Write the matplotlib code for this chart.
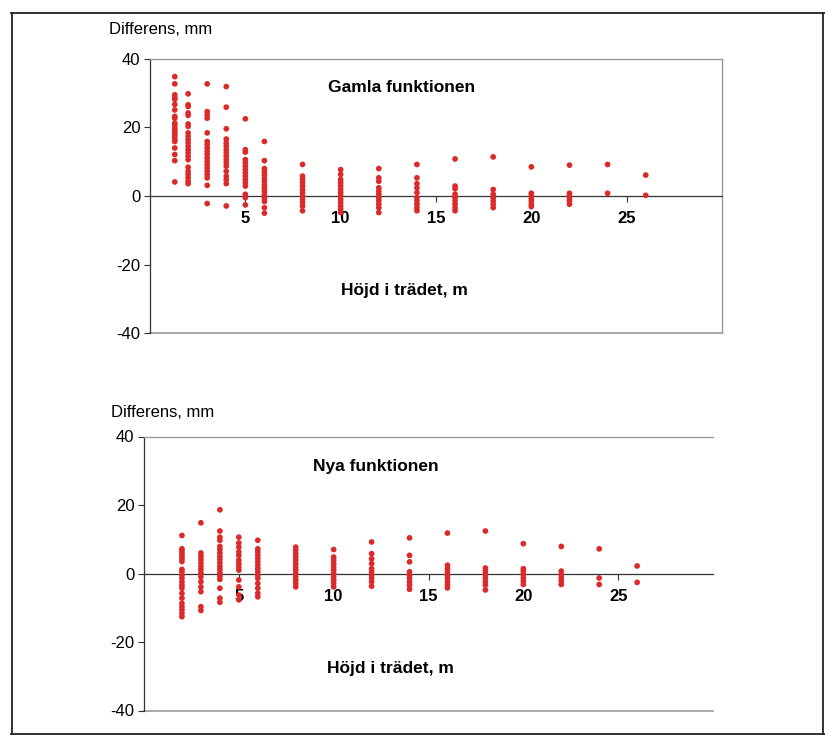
import matplotlib
matplotlib.use("Agg")
import matplotlib.pyplot as plt
from matplotlib.lines import Line2D

plt.rcParams['font.family'] = ['Liberation Sans', 'DejaVu Sans']

# ---------------- data ----------------
old_heights = [1.3, 2, 3, 4, 5, 6, 8, 10, 12, 14, 16, 18, 20, 22, 24, 26]
old_diffs = [
    [34.8, 32.7, 29.5, 28.7, 28.2, 26.7, 25.1, 23.2, 22.7, 21.3, 20.6, 19.8, 19.0,
     18.4, 17.9, 17.1, 16.4, 15.9, 14.0, 12.1, 10.3, 4.1],
    [29.8, 26.6, 26.1, 24.2, 23.5, 21.0, 20.3, 18.4, 17.4, 16.4, 15.5, 14.5, 13.5,
     12.6, 11.6, 10.6, 8.4, 7.2, 6.3, 5.3, 4.3, 3.6],
    [32.7, 24.6, 23.7, 22.7, 18.4, 15.9, 15.0, 14.0, 13.0, 12.1, 11.1, 10.1, 9.2,
     8.2, 7.2, 6.3, 5.3, 3.1, -2.2],
    [31.9, 25.9, 19.6, 16.6, 15.5, 14.5, 13.5, 12.6, 11.6, 10.6, 9.7, 8.7, 7.2,
     5.8, 4.8, 3.6, -2.9],
    [22.5, 13.5, 12.8, 10.6, 9.7, 8.7, 7.7, 6.8, 5.8, 4.8, 3.9, 2.9, 0.5, -0.5, -2.6],
    [15.9, 10.3, 8.0, 7.1, 6.1, 5.1, 4.2, 3.2, 2.2, 1.3, 0.3, -0.7, -1.6, -3.4, -5.0],
    [9.2, 5.8, 4.8, 3.9, 2.9, 1.9, 1.0, 0.0, -1.0, -1.9, -2.9, -4.3],
    [7.7, 6.3, 4.8, 3.9, 2.9, 1.9, 1.0, 0.0, -1.0, -1.9, -2.9, -3.9, -4.8],
    [8.0, 5.3, 4.3, 2.4, 1.4, 0.5, -0.5, -1.4, -2.4, -3.4, -4.8],
    [9.2, 5.3, 3.6, 2.4, 1.0, -0.5, -1.4, -2.4, -3.4, -4.3],
    [10.8, 2.9, 2.1, 0.5, -0.5, -1.4, -2.4, -3.4, -4.3],
    [11.4, 1.9, 0.5, -0.5, -1.4, -2.4, -3.4],
    [8.5, 0.8, 0.0, -0.8, -1.5, -2.4, -3.1],
    [9.0, 0.8, 0.0, -0.8, -1.5, -2.4],
    [9.2, 0.8],
    [6.1, 0.2],
]

new_heights = [2, 3, 4, 5, 6, 8, 10, 12, 14, 16, 18, 20, 22, 24, 26]
new_diffs = [
    [11.1, 7.2, 6.6, 5.8, 5.0, 4.3, 3.5, 1.2, 0.5, -0.5, -1.4, -2.4, -3.4, -4.3,
     -5.8, -7.2, -8.7, -9.7, -10.6, -11.6, -12.6],
    [14.8, 6.0, 5.0, 4.1, 3.1, 2.1, 1.2, 0.2, -1.0, -2.4, -3.9, -5.3, -9.7, -10.8],
    [18.6, 12.4, 10.6, 9.7, 7.9, 7.0, 6.0, 5.0, 4.1, 3.1, 2.1, 1.2, 0.2, -0.8,
     -1.7, -4.3, -7.2, -8.4],
    [10.6, 8.9, 7.7, 6.3, 5.3, 3.9, 2.9, 1.9, 1.0, -1.9, -3.9, -6.3, -7.7],
    [9.7, 7.2, 6.3, 5.3, 4.3, 3.4, 2.4, 1.4, 0.5, -0.5, -1.4, -2.9, -4.3, -5.8, -6.8],
    [7.7, 6.8, 5.8, 4.8, 3.9, 2.9, 1.9, 1.0, 0.0, -1.0, -1.9, -2.9, -3.9],
    [7.0, 4.8, 3.9, 2.9, 1.9, 1.0, 0.0, -1.0, -1.9, -2.9, -3.9],
    [9.2, 5.8, 4.3, 2.9, 1.4, 0.5, -0.5, -1.4, -2.4, -3.7],
    [10.4, 5.3, 3.4, 0.5, -0.5, -1.4, -2.4, -3.4, -4.6],
    [11.8, 2.4, 1.4, 0.5, -0.5, -1.4, -2.4, -3.4, -4.2],
    [12.4, 1.6, 0.7, -0.3, -1.3, -2.4, -3.4, -4.8],
    [8.7, 1.4, 0.7, -0.3, -1.3, -2.2, -3.2],
    [7.9, 0.7, -0.3, -1.3, -2.2, -3.2],
    [7.2, -1.3, -3.2],
    [2.2, -2.6],
]

x_ticks = [5, 10, 15, 20, 25]
y_ticks = [-40, -20, 0, 20, 40]
y_label = "Differens, mm"
x_label = "Höjd i trädet, m"
titles = ["Gamla funktionen", "Nya funktionen"]

# ---------------- figure ----------------
W, H = 825, 736
fig = plt.figure(figsize=(W / 100, H / 100), dpi=100)
fig.patch.set_facecolor("white")

def fx(px):
    return px / W

def fy(py):
    return 1 - py / H

DOT = "#dc2a2a"
GRAY = "#9a9a9a"

def make_panel(left, right, top, bottom, heights, diffs, right_frame):
    ax = fig.add_axes([fx(left), fy(bottom), fx(right) - fx(left), fy(top) - fy(bottom)])
    for h, vals in zip(heights, diffs):
        ax.scatter([h] * len(vals), vals, s=17, color=DOT, edgecolors="none",
                   zorder=3, clip_on=False)
    ax.set_xlim(0, 30)
    ax.set_ylim(-40, 40)
    ax.spines["bottom"].set_position(("data", 0))
    ax.spines["bottom"].set_color("#333333")
    ax.spines["bottom"].set_linewidth(0.9)
    ax.spines["left"].set_color("#333333")
    ax.spines["left"].set_linewidth(0.9)
    ax.spines["top"].set_color(GRAY)
    ax.spines["top"].set_linewidth(1.0)
    if right_frame:
        ax.spines["right"].set_color(GRAY)
        ax.spines["right"].set_linewidth(1.0)
    else:
        ax.spines["right"].set_visible(False)
    ax.axhline(-40, color=GRAY, lw=1.2, zorder=1, clip_on=False)
    ax.set_xticks(x_ticks)
    ax.set_xticklabels([str(t) for t in x_ticks], fontsize=12, fontweight="bold")
    ax.set_yticks(y_ticks)
    ax.set_yticklabels([str(t) for t in y_ticks], fontsize=12)
    ax.tick_params(axis="x", direction="out", length=4, width=0.8, pad=7, colors="#333333",
                   labelcolor="black")
    ax.tick_params(axis="y", direction="out", length=4, width=0.8, pad=3, colors="#333333",
                   labelcolor="black")
    ax.set_facecolor("none")
    return ax

ax1 = make_panel(150, 722, 58.8, 333.2, old_heights, old_diffs, True)
ax2 = make_panel(144, 713, 436.5, 710.5, new_heights, new_diffs, False)

# texts
fig.text(fx(109), fy(30), y_label, fontsize=12, ha="left", va="center")
fig.text(fx(111), fy(412), y_label, fontsize=12, ha="left", va="center")
fig.text(fx(402), fy(87), titles[0], fontsize=12.5, fontweight="bold", ha="center", va="center")
fig.text(fx(376), fy(467), titles[1], fontsize=12.5, fontweight="bold", ha="center", va="center")
fig.text(fx(404), fy(291), x_label, fontsize=12.5, fontweight="bold", ha="center", va="center")
fig.text(fx(390), fy(669), x_label, fontsize=12.5, fontweight="bold", ha="center", va="center")

# outer frame
frame_kw = dict(color="#222222", lw=1.3, transform=fig.transFigure)
fig.add_artist(Line2D([fx(11), fx(825)], [fy(13), fy(13)], **frame_kw))
fig.add_artist(Line2D([fx(12), fx(12)], [fy(13), fy(734)], **frame_kw))
fig.add_artist(Line2D([fx(11), fx(825)], [fy(734), fy(734)], **frame_kw))
fig.add_artist(Line2D([fx(823), fx(823)], [fy(13), fy(734)], **frame_kw))

fig.savefig("out.png", dpi=100, facecolor="white")
